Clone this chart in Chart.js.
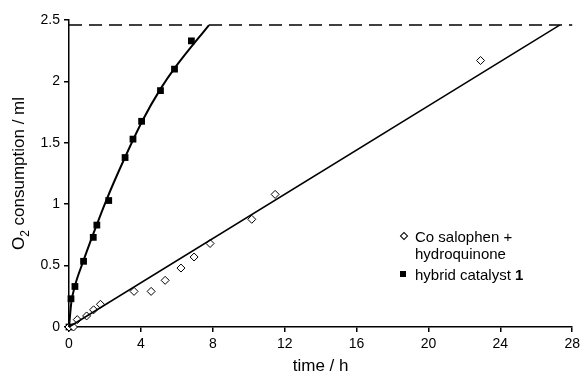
<!DOCTYPE html>
<html>
<head>
<meta charset="utf-8">
<script src="https://cdn.jsdelivr.net/npm/chart.js@4.4.1/dist/chart.umd.min.js"></script>
<style>
  html, body { margin: 0; padding: 0; background: #fff; }
  #wrap { position: relative; width: 584px; height: 381px; }
  #legend {
    position: absolute; left: 400px; top: 228px;
    font-family: "Liberation Sans", Arial, sans-serif; font-size: 15px; color: #000;
    line-height: 17px;
  }
  #legend .row { position: relative; padding-left: 15px; }
  #legend .mk { position: absolute; left: 0; top: 5px; width: 6px; height: 6px; }
  #legend .dia { border: 1px solid #000; background: #fff; transform: rotate(45deg); width: 4px; height: 4px; left: 1px; }
  #legend .sq { background: #000; }
</style>
</head>
<body>
<div id="wrap">
  <canvas id="chart" width="584" height="381"></canvas>
  <div id="legend">
    <div class="row"><span class="mk dia"></span>Co salophen +<br>hydroquinone</div>
    <div class="row" style="margin-top:4px"><span class="mk sq"></span>hybrid catalyst <b>1</b></div>
  </div>
</div>
<script>
// measured points (time in h, O2 in ml)
const hybridT  = [0, 0.11, 0.33, 0.81, 1.35, 1.55, 2.21, 3.12, 3.56, 4.04, 5.09, 5.87, 6.81];
const hybridO2 = [0, 0.23, 0.33, 0.535, 0.73, 0.83, 1.03, 1.38, 1.53, 1.675, 1.925, 2.10, 2.33];

const coT  = [0, 0.25, 0.46, 0.98, 1.37, 1.75, 3.62, 4.57, 5.35, 6.23, 6.96, 7.85, 10.17, 11.47, 22.9];
const coO2 = [0, 0, 0.06, 0.09, 0.14, 0.185, 0.29, 0.29, 0.38, 0.48, 0.57, 0.68, 0.877, 1.08, 2.17];

// fitted curves
const hybridFitT  = [0, 0.13, 0.32, 0.78, 1.33, 2.07, 3.08, 4.10, 5.11, 5.94, 7.79];
const hybridFitO2 = [0, 0.20, 0.33, 0.53, 0.75, 1.03, 1.37, 1.684, 1.943, 2.12, 2.459];

const coFitT  = [0, 27.3];
const coFitO2 = [0, 2.459];

const limitT  = [0, 28];
const limitO2 = [2.459, 2.459];

const toXY = (xs, ys) => xs.map((x, i) => ({ x: x, y: ys[i] }));

const FONT = '"Liberation Sans", Arial, sans-serif';

// y axis title with a subscript 2
const yTitle = {
  id: 'yTitle',
  afterDraw(chart) {
    const ctx = chart.ctx;
    const a = chart.chartArea;
    const big = '17px ' + FONT, small = '12px ' + FONT;
    ctx.save();
    ctx.font = big;
    const w1 = ctx.measureText('O').width;
    const w3 = ctx.measureText(' consumption / ml').width;
    ctx.font = small;
    const w2 = ctx.measureText('2').width;
    const total = w1 + w2 + w3;
    ctx.translate(24, (a.top + a.bottom) / 2);
    ctx.rotate(-Math.PI / 2);
    ctx.fillStyle = '#000';
    ctx.textBaseline = 'alphabetic';
    let x = -total / 2;
    ctx.font = big;
    ctx.fillText('O', x, 0);
    x += w1;
    ctx.font = small;
    ctx.fillText('2', x, 5);
    x += w2;
    ctx.font = big;
    ctx.fillText(' consumption / ml', x, 0);
    ctx.restore();
  }
};

const ctx = document.getElementById('chart').getContext('2d');
const chart = new Chart(ctx, {
  type: 'scatter',
  data: {
    datasets: [
      {
        label: 'limit',
        data: toXY(limitT, limitO2),
        showLine: true,
        borderColor: '#000',
        borderWidth: 1.5,
        borderDash: [13, 7],
        pointRadius: 0
      },
      {
        label: 'Co fit',
        data: toXY(coFitT, coFitO2),
        showLine: true,
        borderColor: '#000',
        borderWidth: 1.5,
        pointRadius: 0
      },
      {
        label: 'hybrid fit',
        data: toXY(hybridFitT, hybridFitO2),
        showLine: true,
        cubicInterpolationMode: 'monotone',
        borderColor: '#000',
        borderWidth: 2,
        pointRadius: 0
      },
      {
        label: 'Co salophen + hydroquinone',
        data: toXY(coT, coO2),
        pointStyle: 'rectRot',
        pointRadius: 4,
        backgroundColor: '#fff',
        borderColor: '#000',
        borderWidth: 1
      },
      {
        label: 'hybrid catalyst 1',
        data: toXY(hybridT, hybridO2),
        pointStyle: 'rect',
        pointRadius: 4.8,
        backgroundColor: '#000',
        borderColor: '#000',
        borderWidth: 0
      }
    ]
  },
  options: {
    responsive: false,
    animation: false,
    clip: false,
    layout: { padding: { top: 20, right: 1, left: 0, bottom: 0 } },
    plugins: {
      legend: { display: false },
      tooltip: { enabled: false }
    },
    scales: {
      x: {
        type: 'linear',
        min: 0,
        max: 28,
        afterFit: s => { s.height = 54; },
        ticks: { stepSize: 4, color: '#000', font: { family: FONT, size: 14 }, padding: 4, maxRotation: 0 },
        grid: { display: true, drawOnChartArea: false, drawTicks: true, tickLength: 5, color: '#000', lineWidth: 1.5 },
        border: { display: true, color: '#000', width: 1.5 },
        title: { display: true, text: 'time / h', color: '#000', font: { family: FONT, size: 17 }, padding: { top: 2 } }
      },
      y: {
        type: 'linear',
        min: 0,
        max: 2.5,
        afterFit: s => { s.width = 69; },
        ticks: {
          stepSize: 0.5, color: '#000', font: { family: FONT, size: 14 }, padding: 4,
          callback: v => String(v)
        },
        grid: { display: true, drawOnChartArea: false, drawTicks: true, tickLength: 5, color: '#000', lineWidth: 1.5 },
        border: { display: true, color: '#000', width: 1.5 }
      }
    }
  },
  plugins: [yTitle]
});
</script>
</body>
</html>
